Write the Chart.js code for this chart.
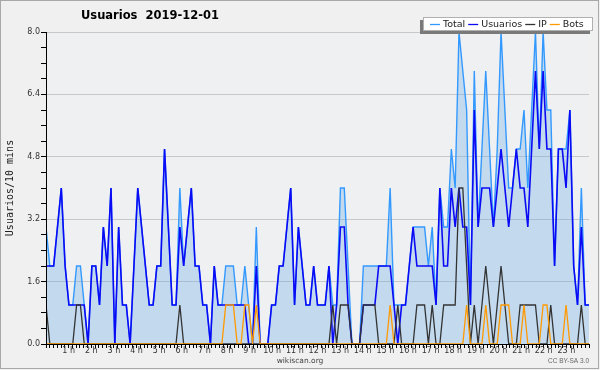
<!DOCTYPE html>
<html>
<head>
<meta charset="utf-8">
<script src="https://cdn.jsdelivr.net/npm/chart.js@4.4.0/dist/chart.umd.min.js"></script>
<style>
html,body{margin:0;padding:0;background:#f0f0f0;}
#wrap{position:relative;width:600px;height:370px;}
canvas{display:block;}
</style>
</head>
<body>
<div id="wrap"><canvas id="c" width="600" height="370"></canvas></div>
<script>
// ---- data ----
const chartTitle = 'Usuarios  2019-12-01';
const seriesNames = ['Total', 'Usuarios', 'IP', 'Bots'];
const hourLabels = ['1 h','2 h','3 h','4 h','5 h','6 h','7 h','8 h','9 h','10 h','11 h','12 h',
                    '13 h','14 h','15 h','16 h','17 h','18 h','19 h','20 h','21 h','22 h','23 h'];
const yTickLabels = ['0.0','1.6','3.2','4.8','6.4','8.0'];

const total = [
 3,2,2,3,4,2,1,1,2,2, 1,0,2,2,1,3,2,4,0,3,
 1,1,0,2,4,3,2,1,1,2, 2,5,3,1,1,4,2,3,4,2,
 2,1,1,0,2,1,1,2,2,2, 1,1,2,1,0,3,0,0,0,1,
 1,2,2,3,4,1,3,2,1,1, 2,1,1,1,2,1,1,4,4,2,
 0,0,0,2,2,2,2,2,2,2, 4,1,1,1,1,2,3,3,3,3,
 2,3,1,4,3,3,5,4,8,7, 6,1,7,3,5,7,5,3,5,8,
 6,4,4,5,5,6,4,6,8,5, 8,6,6,2,5,5,5,6,2,1,
 4,1,1];
const usuarios = [
 2,2,2,3,4,2,1,1,1,1, 1,0,2,2,1,3,2,4,0,3,
 1,1,0,2,4,3,2,1,1,2, 2,5,3,1,1,3,2,3,4,2,
 2,1,1,0,2,1,1,1,1,1, 1,1,1,0,0,2,0,0,0,1,
 1,2,2,3,4,1,3,2,1,1, 2,1,1,1,2,0,1,3,3,1,
 0,0,0,1,1,1,1,2,2,2, 2,1,0,1,1,2,3,2,2,2,
 2,2,1,4,2,2,4,3,4,3, 3,1,6,3,4,4,4,3,4,5,
 4,3,4,5,4,4,3,5,7,5, 7,5,5,2,5,5,4,6,2,1,
 3,1,1];
const ip = [
 1,0,0,0,0,0,0,0,1,1, 0,0,0,0,0,0,0,0,0,0,
 0,0,0,0,0,0,0,0,0,0, 0,0,0,0,0,1,0,0,0,0,
 0,0,0,0,0,0,0,0,0,0, 0,0,0,0,0,0,0,0,0,0,
 0,0,0,0,0,0,0,0,0,0, 0,0,0,0,0,1,0,1,1,1,
 0,0,0,1,1,1,1,0,0,0, 0,0,1,0,0,0,0,1,1,1,
 0,1,0,0,1,1,1,1,4,4, 2,0,1,0,1,2,1,0,1,2,
 1,0,0,0,1,1,1,1,1,0, 0,0,1,0,0,0,0,0,0,0,
 1,0,0];
const bots = [
 0,0,0,0,0,0,0,0,0,0, 0,0,0,0,0,0,0,0,0,0,
 0,0,0,0,0,0,0,0,0,0, 0,0,0,0,0,0,0,0,0,0,
 0,0,0,0,0,0,0,1,1,1, 0,0,1,1,0,1,0,0,0,0,
 0,0,0,0,0,0,0,0,0,0, 0,0,0,0,0,0,0,0,0,0,
 0,0,0,0,0,0,0,0,0,0, 1,0,0,0,0,0,0,0,0,0,
 0,0,0,0,0,0,0,0,0,0, 1,0,0,0,0,1,0,0,0,1,
 1,1,0,0,0,1,0,0,0,0, 1,1,0,0,0,0,1,0,0,0,
 0,0,0];

const colors = {Total:'#3399ff', Usuarios:'#0a0af5', IP:'#333333', Bots:'#ff9900'};

// ---- build ----
const N = usuarios.length;
const HOURS = 24;
const pts = arr => arr.map((v, i) => ({x: i * HOURS / (N - 1), y: v}));

const deco = {
  id: 'deco',
  beforeDraw(chart) {
    const {ctx, chartArea: a} = chart;
    ctx.save();
    ctx.fillStyle = '#f0f0f0';
    ctx.fillRect(0, 0, chart.width, chart.height);
    ctx.fillStyle = '#eef0f2';
    ctx.fillRect(a.left, a.top, a.right - a.left, a.bottom - a.top);
    ctx.restore();
  },
  afterDraw(chart) {
    const ctx = chart.ctx;
    ctx.save();
    // frame
    ctx.strokeStyle = '#a8a8a8';
    ctx.lineWidth = 1;
    ctx.strokeRect(0.5, 0.5, 598, 368);
    // title
    ctx.fillStyle = '#000';
    ctx.font = 'bold 11.5px "DejaVu Sans"';
    ctx.textAlign = 'center';
    ctx.textBaseline = 'middle';
    ctx.fillText(chartTitle, 150, 16.5);
    // legend
    const bx = 423, by = 17, bw = 170, bh = 14;
    ctx.fillStyle = '#7a7a7a';
    ctx.fillRect(bx - 3, by + 3, bw, bh);
    ctx.fillStyle = '#ffffff';
    ctx.fillRect(bx, by, bw, bh);
    ctx.strokeStyle = '#b0b0b0';
    ctx.strokeRect(bx + 0.5, by + 0.5, bw - 1, bh - 1);
    ctx.font = '9.5px "DejaVu Sans"';
    ctx.textAlign = 'left';
    let x = bx + 7;
    const ly = by + bh / 2 + 0.5;
    seriesNames.forEach(name => {
      ctx.strokeStyle = colors[name];
      ctx.lineWidth = 1.3;
      ctx.beginPath();
      ctx.moveTo(x, ly);
      ctx.lineTo(x + 10, ly);
      ctx.stroke();
      x += 13;
      ctx.fillStyle = '#222';
      ctx.fillText(name, x, ly);
      x += ctx.measureText(name).width + 3;
    });
    // footer
    ctx.fillStyle = '#444';
    ctx.font = '7.5px "DejaVu Sans"';
    ctx.textAlign = 'center';
    ctx.fillText('wikiscan.org', 300, 361);
    ctx.fillStyle = '#666';
    ctx.font = '6.5px "Liberation Sans"';
    ctx.textAlign = 'right';
    ctx.fillText('CC BY-SA 3.0', 589, 361.5);
    ctx.restore();
  }
};

const tickFont = {family: 'DejaVu Sans', size: 8};

new Chart(document.getElementById('c'), {
  type: 'line',
  data: {
    datasets: [
      {label: seriesNames[0], data: pts(total), borderColor: colors.Total, backgroundColor: 'rgba(80,160,230,0.27)',
       fill: 'origin', borderWidth: 1.4, order: 4},
      {label: seriesNames[1], data: pts(usuarios), borderColor: colors.Usuarios, borderWidth: 1.6, fill: false, order: 3},
      {label: seriesNames[2], data: pts(ip), borderColor: colors.IP, borderWidth: 1.3, fill: false, order: 2},
      {label: seriesNames[3], data: pts(bots), borderColor: colors.Bots, borderWidth: 1.3, fill: false, order: 1}
    ]
  },
  options: {
    responsive: false,
    animation: false,
    devicePixelRatio: 1,
    events: [],
    elements: {point: {radius: 0}, line: {tension: 0}},
    layout: {padding: {left: 0, right: 11, top: 32, bottom: 0}},
    plugins: {legend: {display: false}, tooltip: {enabled: false}, title: {display: false}},
    scales: {
      x: {
        type: 'linear', min: 0, max: HOURS,
        afterBuildTicks: s => { s.ticks = Array.from({length: HOURS * 6 + 1}, (_, k) => ({value: k / 6})); },
        afterFit: s => { s.height = 26; },
        grid: {drawOnChartArea: false, drawTicks: true, tickLength: 4, tickColor: '#000'},
        border: {display: true, color: '#000', width: 1, z: 1},
        ticks: {autoSkip: false, maxRotation: 0, minRotation: 0, padding: -2, color: '#333', font: tickFont,
                callback: (v, k) => (k % 6 === 0 && k > 0 && k < HOURS * 6) ? hourLabels[k / 6 - 1] : ''}
      },
      y: {
        min: 0, max: 8,
        afterBuildTicks: s => { s.ticks = Array.from({length: 21}, (_, k) => ({value: k * 0.4})); },
        afterFit: s => { s.width = 46; },
        grid: {color: c => (c.index % 4 === 0 ? '#c8c8c8' : 'rgba(0,0,0,0)'), tickColor: '#000', tickLength: 5, drawTicks: true},
        border: {display: true, color: '#000', width: 1, z: 1},
        ticks: {autoSkip: false, padding: 1, color: '#333', font: tickFont,
                callback: (v, k) => (k % 4 === 0 ? yTickLabels[k / 4] : '')},
        title: {display: true, text: 'Usuarios/10 mins', color: '#222',
                font: {family: 'DejaVu Sans Mono', size: 10}, padding: {top: 4, bottom: 0}}
      }
    }
  },
  plugins: [deco]
});
</script>
</body>
</html>
